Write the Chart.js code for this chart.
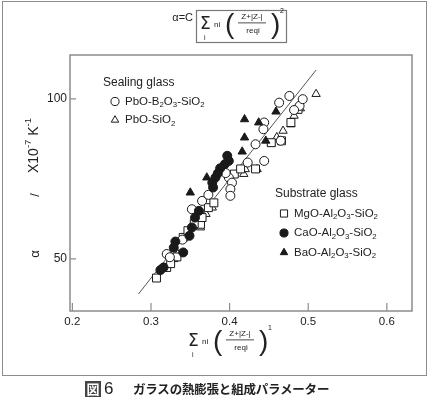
<!DOCTYPE html>
<html>
<head>
<meta charset="utf-8">
<script src="https://cdn.jsdelivr.net/npm/chart.js@4/dist/chart.umd.min.js"></script>
<style>
  body { margin: 0; background: #fff; width: 430px; height: 400px; position: relative; overflow: hidden; }
  #frame { position: absolute; left: 2px; top: 1px; width: 425px; height: 375px; border: 1.5px solid #8c8c8c; box-sizing: border-box; pointer-events: none; }
  #c { position: absolute; left: 0; top: 0; }
  #cap { position: absolute; left: 85px; top: 380px; height: 17px; display: flex; align-items: center; font-family: "Noto Sans CJK JP", sans-serif; color: #222; }
  #cap .fig { display: inline-block; width: 16px; height: 16px; line-height: 16px; background: #444; color: #fff; font-size: 13px; font-weight: 700; text-align: center; }
  #cap .num { font-family: "Liberation Sans", Arial, sans-serif; font-size: 17px; margin-left: 3px; width: 29px; }
  #cap .txt { font-size: 12.5px; font-weight: 700; letter-spacing: -0.2px; }
</style>
</head>
<body>
<canvas id="c" width="430" height="378"></canvas>
<div id="frame"></div>
<div id="cap"><span class="fig">図</span><span class="num">6</span><span class="txt">ガラスの熱膨張と組成パラメーター</span></div>
<script>
// Sealing glass
const pbbX = [0.476, 0.463, 0.489, 0.493, 0.482, 0.444, 0.443, 0.433, 0.465, 0.444, 0.423, 0.399, 0.403, 0.401, 0.401, 0.395, 0.365, 0.352, 0.320, 0.324, 0.340, 0.373];
const pbbY = [100.9, 98.8, 97.8, 99.9, 96.5, 92.6, 90.5, 85.8, 86.9, 80.6, 80.1, 75.4, 73.8, 71.8, 69.7, 76.8, 68.1, 65.5, 51.5, 50.5, 56.0, 70.0];
const pbsX = [0.510, 0.482, 0.478, 0.468, 0.453, 0.420, 0.435, 0.418, 0.378, 0.370, 0.363, 0.329, 0.334, 0.490, 0.460];
const pbsY = [101.5, 94.7, 92.0, 90.0, 86.0, 78.0, 78.0, 76.5, 66.0, 64.0, 59.8, 49.9, 51.5, 97.0, 88.0];
// Substrate glass
const mgX = [0.307, 0.320, 0.333, 0.341, 0.347, 0.363, 0.365, 0.373, 0.380, 0.406, 0.414, 0.433, 0.478, 0.487, 0.466, 0.453, 0.325, 0.355];
const mgY = [44.0, 47.3, 50.6, 56.7, 58.8, 60.8, 62.9, 66.0, 67.5, 76.5, 78.1, 78.1, 92.6, 96.7, 86.9, 86.3, 48.5, 61.0];
const caX = [0.397, 0.399, 0.394, 0.388, 0.385, 0.382, 0.378, 0.379, 0.361, 0.356, 0.352, 0.349, 0.331, 0.329, 0.341, 0.316, 0.312];
const caY = [82.2, 80.6, 79.6, 78.3, 76.7, 75.4, 73.8, 72.3, 65.0, 62.9, 59.8, 57.2, 55.4, 53.5, 52.0, 47.3, 46.5];
const baX = [0.419, 0.419, 0.416, 0.350, 0.459, 0.446, 0.371, 0.437];
const baY = [93.6, 87.9, 83.5, 70.7, 96.0, 86.9, 75.4, 92.6];
// fitted line end points
const fitX = [0.284, 0.510];
const fitY = [39.0, 109.0];

const xTicks = [0.2, 0.3, 0.4, 0.5, 0.6];
const yTicks = [50, 100];

const INK = '#222';
const AXIS = '#8c8c8c';
const FONT = '"Liberation Sans", Arial, sans-serif';

const pts = (xs, ys) => xs.map((x, i) => ({ x, y: ys[i] }));

function sym(label, group, style, filled, r, order) {
  return {
    label, group, legendOrder: order,
    data: [],
    pointStyle: style,
    pointRadius: r,
    borderWidth: 1,
    borderColor: '#1a1a1a',
    backgroundColor: filled ? '#1a1a1a' : '#fff'
  };
}

const sets = [
  Object.assign(sym('CaO-Al_2O_3-SiO_2', 'sub', 'circle', true, 4.5, 1), { data: pts(caX, caY) }),
  Object.assign(sym('BaO-Al_2O_3-SiO_2', 'sub', 'triangle', true, 4.8, 2), { data: pts(baX, baY) }),
  Object.assign(sym('PbO-B_2O_3-SiO_2', 'seal', 'circle', false, 4.5, 0), { data: pts(pbbX, pbbY) }),
  Object.assign(sym('MgO-Al_2O_3-SiO_2', 'sub', 'rect', false, 5.6, 0), { data: pts(mgX, mgY) }),
  Object.assign(sym('PbO-SiO_2', 'seal', 'triangle', false, 4.8, 1), { data: pts(pbsX, pbsY) }),
  {
    type: 'line', label: 'fit', data: pts(fitX, fitY),
    borderColor: '#555', borderWidth: 1, pointRadius: 0, fill: false
  }
];

// text with _n subscripts / ^n superscripts
function parts(s) {
  return s.split(/([_^]-?\d+)/).filter(Boolean).map(p =>
    p[0] === '_' ? [p.slice(1), 'sub'] : p[0] === '^' ? [p.slice(1), 'sup'] : [p]);
}
function rich(ctx, s, x, y, size, align) {
  const ps = parts(s);
  const f = m => (m ? size * 0.68 : size) + 'px ' + FONT;
  let w = 0;
  ps.forEach(([t, m]) => { ctx.font = f(m); w += ctx.measureText(t).width; });
  let cx = align === 'center' ? x - w / 2 : align === 'right' ? x - w : x;
  ctx.textAlign = 'left';
  ctx.textBaseline = 'middle';
  ps.forEach(([t, m]) => {
    ctx.font = f(m);
    const dy = m === 'sub' ? size * 0.3 : m === 'sup' ? -size * 0.38 : 0;
    ctx.fillText(t, cx, y + dy);
    cx += ctx.measureText(t).width;
  });
  return w;
}

function formula(ctx, sx, cy, pow) {
  ctx.fillStyle = INK;
  ctx.textBaseline = 'middle';
  ctx.textAlign = 'left';
  ctx.font = '17px "DejaVu Sans", sans-serif';
  ctx.fillText('Σ', sx, cy);
  ctx.font = '7px ' + FONT;
  ctx.fillText('i', sx + 4, cy + 13);
  ctx.font = '8px ' + FONT;
  ctx.fillText('ni', sx + 14, cy);
  ctx.font = '28px ' + FONT;
  ctx.fillText('(', sx + 25, cy);
  ctx.fillText(')', sx + 71, cy);
  ctx.textAlign = 'center';
  ctx.font = '8px ' + FONT;
  ctx.fillText('Z+|Z-|', sx + 52, cy - 8);
  ctx.fillRect(sx + 38, cy - 2.5, 28, 0.8);
  ctx.fillText('reqi', sx + 53, cy + 6);
  ctx.textAlign = 'left';
  ctx.font = '7px ' + FONT;
  ctx.fillText(pow, sx + 80, cy - 14);
}

const decor = {
  id: 'decor',
  afterDatasetsDraw(chart) {
    const { ctx, chartArea: a, scales } = chart;
    const H = Chart.helpers;
    ctx.save();
    // plot box
    ctx.strokeStyle = AXIS;
    ctx.lineWidth = 1.5;
    ctx.strokeRect(a.left, a.top, a.right - a.left, a.bottom - a.top);
    // inward ticks
    ctx.lineWidth = 1.2;
    ctx.beginPath();
    xTicks.forEach(v => {
      const px = scales.x.getPixelForValue(v);
      ctx.moveTo(px, a.bottom); ctx.lineTo(px, a.bottom - 8);
    });
    yTicks.forEach(v => {
      const py = scales.y.getPixelForValue(v);
      ctx.moveTo(a.left, py); ctx.lineTo(a.left + 6, py);
    });
    ctx.stroke();

    // legends
    const legendBlock = (title, group, tx, ty, sxp, step) => {
      ctx.fillStyle = INK;
      ctx.font = '12px ' + FONT;
      ctx.textAlign = 'left';
      ctx.textBaseline = 'middle';
      ctx.fillText(title, tx, ty);
      chart.data.datasets
        .filter(d => d.group === group)
        .sort((p, q) => p.legendOrder - q.legendOrder)
        .forEach((d, i) => {
          const y = ty + step * (i + 1);
          ctx.fillStyle = d.backgroundColor;
          ctx.strokeStyle = d.borderColor;
          ctx.lineWidth = 1;
          H.drawPoint(ctx, { pointStyle: d.pointStyle, radius: d.pointRadius * 0.9, borderWidth: 1, rotation: 0 }, sxp, y);
          ctx.fillStyle = INK;
          rich(ctx, d.label, sxp + 10, y, 11.5, 'left');
        });
    };
    legendBlock('Sealing glass', 'seal', 103, 83, 115, 18.5);
    legendBlock('Substrate glass', 'sub', 275, 194, 284, 19.5);

    // y axis title
    ctx.fillStyle = INK;
    ctx.translate(35, 0);
    ctx.rotate(-Math.PI / 2);
    ctx.textAlign = 'center';
    ctx.textBaseline = 'middle';
    ctx.font = '13px ' + FONT;
    ctx.fillText('α', -254, 0);
    ctx.fillText('/', -195, 0);
    rich(ctx, 'X10^-7 K^-1', -173, -1, 14, 'left');
    ctx.restore();

    // formula above the plot
    ctx.save();
    ctx.fillStyle = INK;
    ctx.font = '11px ' + FONT;
    ctx.textAlign = 'right';
    ctx.textBaseline = 'middle';
    ctx.fillText('α=C', 193, 18);
    ctx.strokeStyle = '#777';
    ctx.lineWidth = 1.2;
    ctx.strokeRect(196.5, 10.5, 90, 32);
    formula(ctx, 200, 25, '2');
    // x axis title
    formula(ctx, 188, 342, '1');
    ctx.restore();
  }
};

new Chart(document.getElementById('c'), {
  type: 'scatter',
  data: { datasets: sets },
  options: {
    responsive: false,
    animation: false,
    layout: { padding: { top: 55, right: 18, left: 0, bottom: 0 } },
    plugins: { legend: { display: false }, tooltip: { enabled: false } },
    scales: {
      x: {
        type: 'linear',
        min: 0.197, max: 0.632,
        afterFit: s => { s.height = 67; },
        afterBuildTicks: s => { s.ticks = xTicks.map(v => ({ value: v })); },
        ticks: { callback: v => v.toFixed(1), padding: 4, color: INK, font: { size: 11.5, family: FONT } },
        grid: { display: false, drawTicks: false },
        border: { display: false }
      },
      y: {
        min: 33.7, max: 113.7,
        afterFit: s => { s.width = 70; },
        afterBuildTicks: s => { s.ticks = yTicks.map(v => ({ value: v })); },
        ticks: { padding: 3, color: INK, font: { size: 12, family: FONT } },
        grid: { display: false, drawTicks: false },
        border: { display: false }
      }
    }
  },
  plugins: [decor]
});
</script>
</body>
</html>
